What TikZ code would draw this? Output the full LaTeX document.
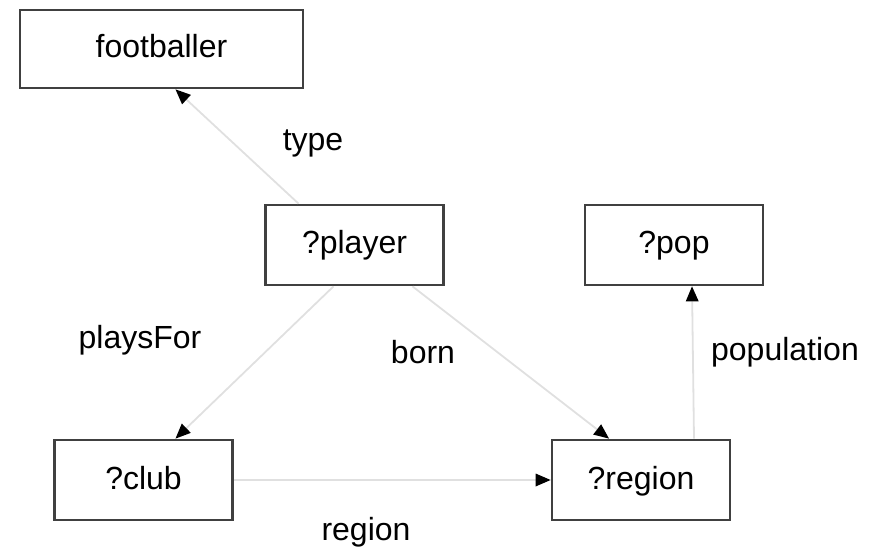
\documentclass[tikz,border=0pt]{standalone}
\usepackage{fontspec}
\setmainfont{Liberation Sans}
\usetikzlibrary{arrows.meta}
\begin{document}
\begin{tikzpicture}[x=1pt,y=-1pt,
  box/.style={draw=black!75, line width=2.8pt, fill=white, minimum width=#1, minimum height=80pt, inner sep=0pt, text height=24pt, text depth=6pt, font=\fontsize{32}{38}\selectfont},
  box/.default=178pt,
  rel/.style={draw=black!12, line width=1.8pt, -{Triangle[length=15pt,width=13pt,color=black,line width=0pt]}},
  lbl/.style={font=\fontsize{32}{38}\selectfont, inner sep=0pt}]
\useasboundingbox (0,0) rectangle (884,553);
\node[box=283pt, minimum height=78pt] (foot) at (161.5,49) {footballer};
\node[box] (player) at (354.5,245) {?player};
\node[box] (pop) at (674,245) {?pop};
\node[box] (club) at (143.5,480) {?club};
\node[box] (reg) at (641,480) {?region};
\draw[rel] ([xshift=-56pt]player.north) -- ([xshift=14pt]foot.south);
\draw[rel] ([xshift=-21pt]player.south) -- ([xshift=32pt]club.north);
\draw[rel] ([xshift=58pt]player.south) -- ([xshift=-32pt]reg.north);
\draw[rel] (club.east) -- (reg.west);
\draw[rel] ([xshift=53pt]reg.north) -- ([xshift=18pt]pop.south);
\node[lbl] (ltype) at (313,143) {type};
\node[lbl] (lplays) at (140,340) {playsFor};
\node[lbl] (lborn) at (423,352) {born};
\node[lbl] (lpop) at (785,352) {population};
\node[lbl] (lreg) at (366,532) {region};
\end{tikzpicture}
\end{document}
